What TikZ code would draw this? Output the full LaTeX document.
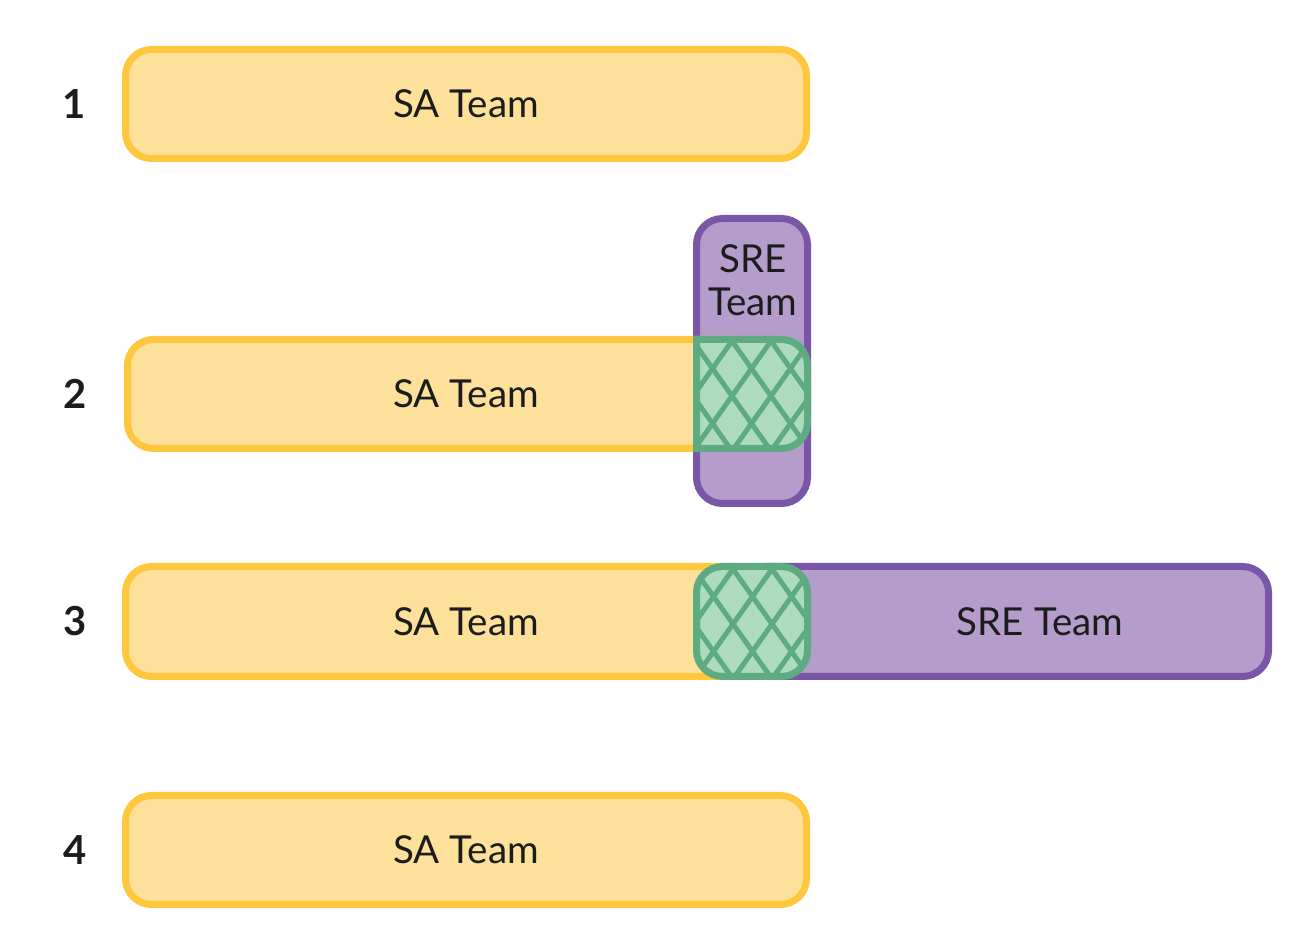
\documentclass[tikz,border=0pt]{standalone}
\usepackage{fontspec}
\setmainfont{Lato}
\definecolor{safill}{HTML}{FDE09A}
\definecolor{sadraw}{HTML}{FFC73D}
\definecolor{srefill}{HTML}{B49DCB}
\definecolor{sredraw}{HTML}{7A55A8}
\definecolor{ovfill}{HTML}{AEDBBE}
\definecolor{ovdraw}{HTML}{5EAB81}
\definecolor{txt}{HTML}{1C1C1C}
\begin{document}
\begin{tikzpicture}[x=1pt,y=1pt,
  sabox/.style={draw=sadraw,fill=safill,line width=7pt,rounded corners=26pt},
  srebox/.style={draw=sredraw,fill=srefill,line width=7pt,rounded corners=26pt},
  ovline/.style={draw=ovdraw,line width=7pt},
  hatch/.style={draw=ovdraw,line width=5pt},
  lbl/.style={text=txt,font=\fontsize{38.5}{42}\selectfont,align=center},
  num/.style={text=txt,font=\fontsize{40}{44}\selectfont\bfseries}]
\useasboundingbox (0,0) rectangle (1310,948);
% row 1
\draw[sabox] (125.5,789.5) rectangle (806.5,898.5);
\node[lbl] (t1) at (466,844) {SA Team};
\node[num] (n1) at (74,844) {1};
% row 2
\draw[srebox] (696.5,444.5) rectangle (807.5,729.5);
\draw[sabox] (127.5,499.5) rectangle (760,608.5);
\begin{scope}
\clip (696.5,608.5) -- (781.5,608.5) arc[start angle=90,end angle=0,radius=26] -- (807.5,525.5) arc[start angle=0,end angle=-90,radius=26] -- (696.5,499.5) -- cycle;
\fill[ovfill] (690,490) rectangle (815,615);
\foreach \k in {-6,...,6}{
  \draw[hatch] ({732+39*\k-19.5*6},{607+27.5*6}) -- ({732+39*\k+19.5*6},{607-27.5*6});
  \draw[hatch] ({732+39*\k+19.5*6},{607+27.5*6}) -- ({732+39*\k-19.5*6},{607-27.5*6});
}
\end{scope}
\draw[ovline] (696.5,608.5) -- (781.5,608.5) arc[start angle=90,end angle=0,radius=26] -- (807.5,525.5) arc[start angle=0,end angle=-90,radius=26] -- (696.5,499.5) -- cycle;
\node[lbl] (t2) at (466,554) {SA Team};
\node[lbl,font=\fontsize{38.5}{43}\selectfont] (s2) at (753,668) {SRE\\Team};
\node[num] (n2) at (75,554) {2};
% row 3
\draw[sabox] (125.5,271.5) rectangle (760,381.5);
\draw[srebox] (740,271.5) rectangle (1268.5,381.5);
\begin{scope}
\clip[rounded corners=26pt] (696.5,271.5) rectangle (807.5,381.5);
\fill[ovfill] (690,265) rectangle (815,390);
\foreach \k in {-6,...,6}{
  \draw[hatch] ({733+39*\k-19.5*6},{379+27.5*6}) -- ({733+39*\k+19.5*6},{379-27.5*6});
  \draw[hatch] ({733+39*\k+19.5*6},{379+27.5*6}) -- ({733+39*\k-19.5*6},{379-27.5*6});
}
\end{scope}
\draw[ovline,rounded corners=26pt] (696.5,271.5) rectangle (807.5,381.5);
\node[lbl] (t3) at (466,326.5) {SA Team};
\node[lbl] (s3) at (1040,326.5) {SRE Team};
\node[num] (n3) at (75,326.5) {3};
% row 4
\draw[sabox] (125.5,43.5) rectangle (806.5,152.5);
\node[lbl] (t4) at (466,98) {SA Team};
\node[num] (n4) at (75,98) {4};
\end{tikzpicture}
\end{document}
